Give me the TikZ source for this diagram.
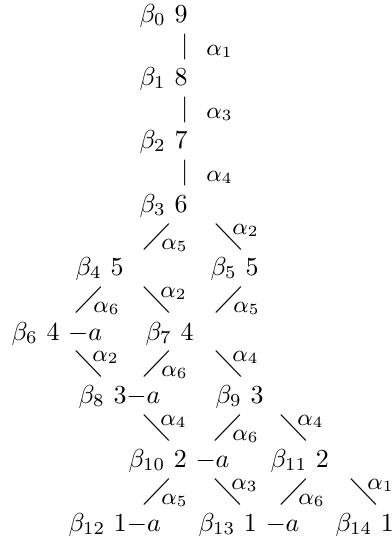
\documentclass[tikz,border=0pt]{standalone}
\usepackage{amsmath,amssymb}
\usepackage{tikz}

% edge marks: a slanted or upright stroke with its simple root
\newcommand{\upedge}[1]{\scalebox{1.15}{$\diagup$}\hspace{-3.3pt}\raisebox{-2pt}{\small$#1$}}
\newcommand{\downedge}[1]{\scalebox{1.15}{$\diagdown$}\hspace{-3.7pt}\raisebox{3.8pt}{\small$#1$}}
\newcommand{\vertedge}[1]{$|$\hspace{7pt}\raisebox{-0.8pt}{\small$#1$}}

\begin{document}
\begin{tikzpicture}[
    x=0.385pt, y=-0.385pt,
    root/.style={anchor=base west, inner sep=0pt},
    edgemark/.style={anchor=base west, inner sep=0pt},
]
\useasboundingbox (0,0) rectangle (392,542);
% roots, one row per height
\node[root] (b0) at (139,22) {$\beta_0$ 9};
\node[root] (b1) at (139,85) {$\beta_1$ 8};
\node[root] (b2) at (139,148) {$\beta_2$ 7};
\node[root] (b3) at (139,212) {$\beta_3$ 6};
\node[root] (b4) at (75,275) {$\beta_4$ 5};
\node[root] (b5) at (210,275) {$\beta_5$ 5};
\node[root] (b6) at (11,340) {$\beta_6$ 4 $-a$};
\node[root] (b7) at (145,340) {$\beta_7$ 4};
\node[root] (b8) at (78,403) {$\beta_8$ 3$-a$};
\node[root] (b9) at (215,403) {$\beta_9$ 3};
\node[root] (b10) at (128,467) {$\beta_{10}$ 2 $-a$};
\node[root] (b11) at (270,467) {$\beta_{11}$ 2};
\node[root] (b12) at (68,531) {$\beta_{12}$ 1$-a$};
\node[root] (b13) at (198,531) {$\beta_{13}$ 1 $-a$};
\node[root] (b14) at (335,531) {$\beta_{14}$ 1};

% edges labelled by simple roots
\node[edgemark] (e01) at (180.5,53) {\vertedge{\alpha_1}};
\node[edgemark] (e12) at (180.5,116) {\vertedge{\alpha_3}};
\node[edgemark] (e23) at (180.5,179) {\vertedge{\alpha_4}};
\node[edgemark] (e34) at (143,244) {\upedge{\alpha_5}};
\node[edgemark] (e35) at (215,244) {\downedge{\alpha_2}};
\node[edgemark] (e46) at (75,307) {\upedge{\alpha_6}};
\node[edgemark] (e47) at (143,307) {\downedge{\alpha_2}};
\node[edgemark] (e57) at (215,307) {\upedge{\alpha_5}};
\node[edgemark] (e68) at (75,371) {\downedge{\alpha_2}};
\node[edgemark] (e78) at (143,371) {\upedge{\alpha_6}};
\node[edgemark] (e79) at (215,371) {\downedge{\alpha_4}};
\node[edgemark] (e810) at (143,435) {\downedge{\alpha_4}};
\node[edgemark] (e910) at (214,435) {\upedge{\alpha_6}};
\node[edgemark] (e911) at (280,435) {\downedge{\alpha_4}};
\node[edgemark] (e1012) at (143,499) {\upedge{\alpha_5}};
\node[edgemark] (e1013) at (214,499) {\downedge{\alpha_3}};
\node[edgemark] (e1113) at (280,499) {\upedge{\alpha_6}};
\node[edgemark] (e1114) at (350,499) {\downedge{\alpha_1}};
\end{tikzpicture}
\end{document}
